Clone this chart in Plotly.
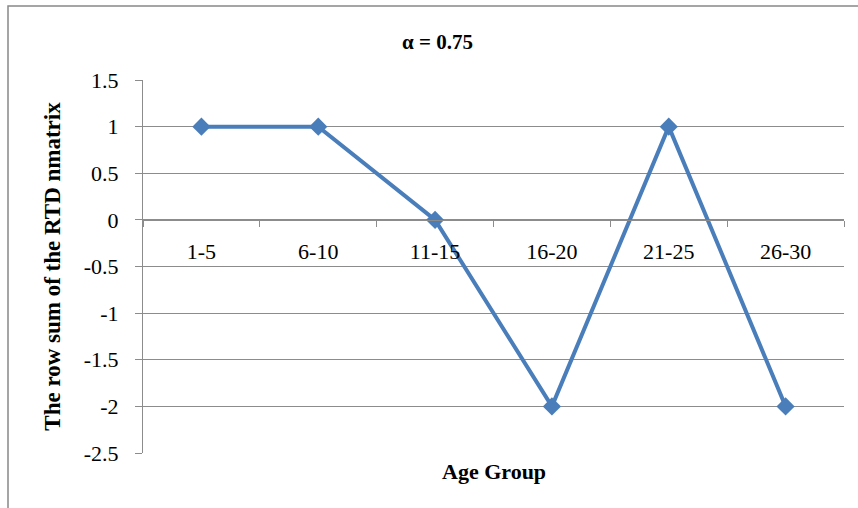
import plotly.graph_objects as go

categories = ["1-5", "6-10", "11-15", "16-20", "21-25", "26-30"]
row_sum = [1, 1, 0, -2, 1, -2]
y_tickvals = [1.5, 1, 0.5, 0, -0.5, -1, -1.5, -2, -2.5]
y_ticktext = ["1.5", "1", "0.5", "0", "-0.5", "-1", "-1.5", "-2", "-2.5"]

FONT = "Liberation Serif, Times New Roman, serif"
GRID = "#8c8c8c"
BLUE = "#4a7ebb"
FS = 22

fig = go.Figure()
fig.add_trace(go.Scatter(
    x=categories, y=row_sum, mode="lines+markers",
    line=dict(color=BLUE, width=4),
    marker=dict(symbol="diamond", size=14, color=BLUE),
    showlegend=False, cliponaxis=False, hoverinfo="skip",
))

W, H = 858, 508
L, R, T, B = 143, 14, 80, 55
pw, ph = W - L - R, H - T - B

def px_x(x):
    return (x - L) / pw

def px_y(y):
    return (H - B - y) / ph

fig.update_layout(
    width=W, height=H,
    margin=dict(l=L, r=R, t=T, b=B, autoexpand=False),
    paper_bgcolor="white", plot_bgcolor="white",
    font=dict(family=FONT, size=FS, color="black"),
    xaxis=dict(
        type="category", anchor="free", position=2.5 / 4,
        showline=True, linecolor=GRID, linewidth=1,
        ticks="outside", ticklen=6, tickcolor=GRID, tickson="boundaries",
        ticklabelstandoff=12,
        showgrid=False, zeroline=False,
        tickfont=dict(family=FONT, size=FS, color="black"),
        range=[-0.5, 5.5],
    ),
    yaxis=dict(
        range=[-2.5, 1.5], tickvals=y_tickvals, ticktext=y_ticktext,
        showline=True, linecolor=GRID, linewidth=1,
        ticks="outside", ticklen=7, tickcolor=GRID,
        ticklabelstandoff=12,
        showgrid=True, gridcolor=GRID, gridwidth=1, zeroline=False,
        tickfont=dict(family=FONT, size=FS, color="black"),
        title=dict(text="<b>The row sum of the RTD nmatrix</b>",
                   font=dict(family=FONT, size=23, color="black"), standoff=16),
    ),
    annotations=[
        dict(text="<b>α = 0.75</b>", xref="paper", yref="paper",
             x=px_x(437), y=px_y(42), showarrow=False,
             xanchor="center", yanchor="middle",
             font=dict(family=FONT, size=21, color="black")),
        dict(text="<b>Age Group</b>", xref="paper", yref="paper",
             x=0.5, y=px_y(471), showarrow=False,
             xanchor="center", yanchor="middle",
             font=dict(family=FONT, size=FS, color="black")),
    ],
    shapes=[
        dict(type="rect", xref="paper", yref="paper",
             x0=px_x(8), x1=px_x(900), y0=px_y(540), y1=px_y(6),
             line=dict(color="#888888", width=1.5), layer="below"),
    ],
)

fig.write_html("out.html", config={"displayModeBar": False, "staticPlot": True},
               post_script="document.body.style.margin='0px';")
